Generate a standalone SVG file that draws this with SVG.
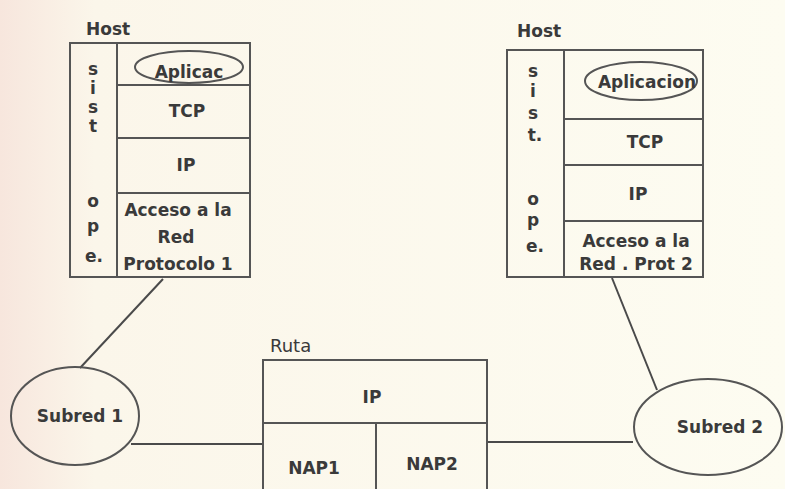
<svg xmlns="http://www.w3.org/2000/svg" width="785" height="489" viewBox="0 0 785 489">
<defs>
<linearGradient id="bg" x1="0" y1="0" x2="1" y2="0">
<stop offset="0" stop-color="#f7e6dd"/>
<stop offset="0.12" stop-color="#fbf6ea"/>
<stop offset="1" stop-color="#fdfcf1"/>
</linearGradient>
</defs>
<style>
.box{fill:none;stroke:#555;stroke-width:2}
.ln{fill:none;stroke:#4a4a4a;stroke-width:2}
.t{font-family:"DejaVu Sans","Liberation Sans",sans-serif;font-size:17px;font-weight:bold;fill:#3a3a3a;text-anchor:middle}
.s{font-family:"DejaVu Sans","Liberation Sans",sans-serif;font-size:17px;font-weight:bold;fill:#3a3a3a;text-anchor:middle}
.lbl{font-family:"DejaVu Sans","Liberation Sans",sans-serif;font-size:17px;font-weight:bold;fill:#3a3a3a}
.r{font-family:"DejaVu Sans","Liberation Sans",sans-serif;font-size:18px;fill:#3a3a3a}
</style>
<rect x="0" y="0" width="785" height="489" fill="url(#bg)"/>

<g id="connectors">
<line class="ln" x1="163" y1="279" x2="80" y2="368"/>
<line class="ln" x1="612" y1="278" x2="657" y2="390"/>
<line class="ln" x1="131" y1="444" x2="263" y2="444"/>
<line class="ln" x1="487" y1="442" x2="633" y2="442"/>
</g>

<g id="host1">
<text class="lbl" x="86" y="35">Host</text>
<rect class="box" x="70" y="43" width="180" height="234"/>
<line class="box" x1="117" y1="43" x2="117" y2="277"/>
<line class="box" x1="117" y1="85" x2="250" y2="85"/>
<line class="box" x1="117" y1="138" x2="250" y2="138"/>
<line class="box" x1="117" y1="193" x2="250" y2="193"/>
<text class="s" x="93" y="75">s</text>
<text class="s" x="93" y="94">i</text>
<text class="s" x="93" y="113">s</text>
<text class="s" x="93" y="132">t</text>
<text class="s" x="93" y="207">o</text>
<text class="s" x="93" y="232">p</text>
<text class="s" x="94" y="262">e.</text>
<ellipse class="box" cx="189" cy="67" rx="54" ry="16"/>
<text class="t" x="189" y="78">Aplicac</text>
<text class="t" x="187" y="117">TCP</text>
<text class="t" x="186" y="171">IP</text>
<text class="t" x="178" y="216">Acceso a la</text>
<text class="t" x="176" y="243">Red</text>
<text class="t" x="178" y="270">Protocolo 1</text>
</g>

<g id="host2">
<text class="lbl" x="517" y="37">Host</text>
<rect class="box" x="507" y="50" width="196" height="227"/>
<line class="box" x1="564" y1="50" x2="564" y2="277"/>
<line class="box" x1="564" y1="119" x2="703" y2="119"/>
<line class="box" x1="564" y1="165" x2="703" y2="165"/>
<line class="box" x1="564" y1="221" x2="703" y2="221"/>
<text class="s" x="533" y="77">s</text>
<text class="s" x="533" y="97">i</text>
<text class="s" x="533" y="119">s</text>
<text class="s" x="535" y="141">t.</text>
<text class="s" x="533" y="205">o</text>
<text class="s" x="533" y="226">p</text>
<text class="s" x="535" y="252">e.</text>
<ellipse class="box" cx="641" cy="81" rx="56" ry="19"/>
<text class="t" x="647" y="88">Aplicacion</text>
<text class="t" x="645" y="148">TCP</text>
<text class="t" x="638" y="200">IP</text>
<text class="t" x="636" y="247">Acceso a la</text>
<text class="t" x="636" y="270">Red . Prot 2</text>
</g>

<g id="ruta">
<text class="r" x="270" y="352">Ruta</text>
<polyline class="box" points="263,495 263,360 487,360 487,495"/>
<line class="box" x1="263" y1="423" x2="487" y2="423"/>
<line class="box" x1="376" y1="423" x2="376" y2="495"/>
<text class="t" x="372" y="403">IP</text>
<text class="t" x="314" y="474">NAP1</text>
<text class="t" x="432" y="470">NAP2</text>
</g>

<g id="subred1">
<ellipse class="box" cx="75" cy="416" rx="64" ry="49"/>
<text class="t" x="80" y="422">Subred 1</text>
</g>

<g id="subred2">
<ellipse class="box" cx="708" cy="427" rx="74" ry="48"/>
<text class="t" x="720" y="433">Subred 2</text>
</g>
</svg>
